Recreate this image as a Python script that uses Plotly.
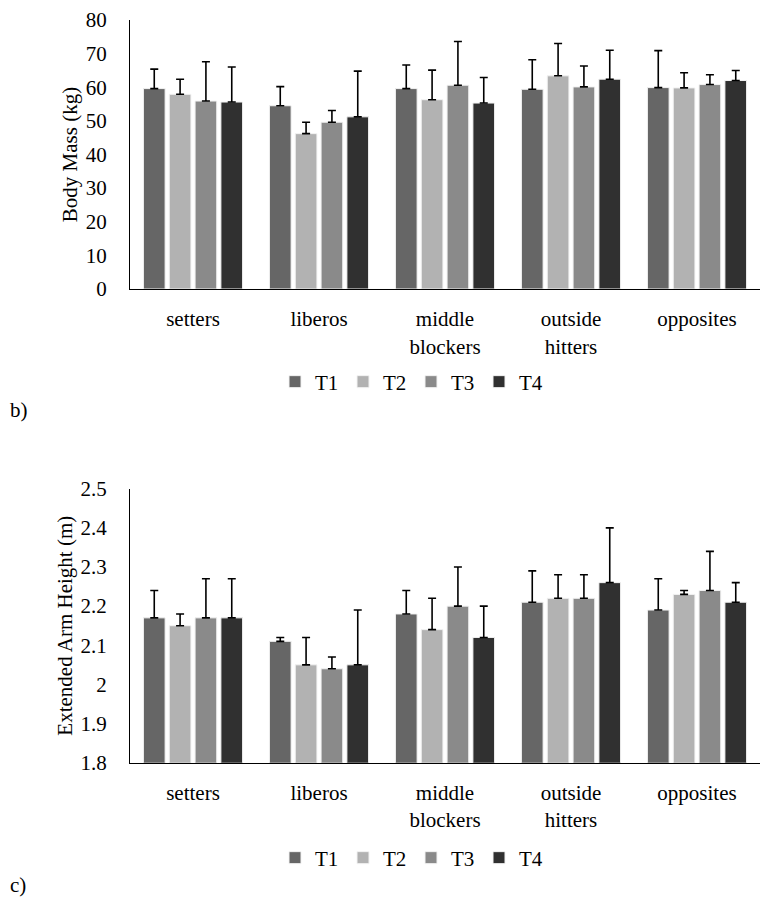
import plotly.graph_objects as go

categories = ["setters", "liberos", "middle<br>blockers", "outside<br>hitters", "opposites"]
series_names = ["T1", "T2", "T3", "T4"]
colors = ["#666666", "#b2b2b2", "#8a8a8a", "#303030"]

# Body mass (kg): means and SD per time point
mass_T1 = [59.6, 54.5, 59.6, 59.4, 59.9]
mass_T2 = [57.9, 46.2, 56.3, 63.4, 59.8]
mass_T3 = [55.9, 49.6, 60.6, 60.1, 60.8]
mass_T4 = [55.6, 51.2, 55.3, 62.4, 62.0]
mass_sd_T1 = [5.8, 5.7, 7.0, 8.8, 11.0]
mass_sd_T2 = [4.5, 3.4, 8.8, 9.6, 4.5]
mass_sd_T3 = [11.7, 3.5, 13.0, 6.2, 2.9]
mass_sd_T4 = [10.4, 13.6, 7.6, 8.6, 3.0]

# Extended arm height (m): means and SD per time point
arm_T1 = [2.17, 2.11, 2.18, 2.21, 2.19]
arm_T2 = [2.15, 2.05, 2.14, 2.22, 2.23]
arm_T3 = [2.17, 2.04, 2.20, 2.22, 2.24]
arm_T4 = [2.17, 2.05, 2.12, 2.26, 2.21]
arm_sd_T1 = [0.07, 0.01, 0.06, 0.08, 0.08]
arm_sd_T2 = [0.03, 0.07, 0.08, 0.06, 0.01]
arm_sd_T3 = [0.10, 0.03, 0.10, 0.06, 0.10]
arm_sd_T4 = [0.10, 0.14, 0.08, 0.14, 0.05]

mass_means = [mass_T1, mass_T2, mass_T3, mass_T4]
mass_sds = [mass_sd_T1, mass_sd_T2, mass_sd_T3, mass_sd_T4]
arm_means = [arm_T1, arm_T2, arm_T3, arm_T4]
arm_sds = [arm_sd_T1, arm_sd_T2, arm_sd_T3, arm_sd_T4]

FONT = "Liberation Serif"
FS = 21
W, H = 768, 909
OX, OY = 8, 8  # page body margin offset


def px_x(x):
    return (x - OX) / W


def px_y(y):
    return 1 - (y - OY) / H


fig = go.Figure()

for i, name in enumerate(series_names):
    fig.add_trace(go.Bar(
        x=categories, y=mass_means[i], name=name,
        marker=dict(color=colors[i], line=dict(color="#f2f2f2", width=1)),
        error_y=dict(type="data", array=mass_sds[i], arrayminus=[0] * 5,
                     symmetric=False, color="black", thickness=1.6, width=4),
        xaxis="x", yaxis="y", legend="legend",
    ))
for i, name in enumerate(series_names):
    fig.add_trace(go.Bar(
        x=categories, y=arm_means[i], name=name,
        marker=dict(color=colors[i], line=dict(color="#f2f2f2", width=1)),
        error_y=dict(type="data", array=arm_sds[i], arrayminus=[0] * 5,
                     symmetric=False, color="black", thickness=1.6, width=4),
        xaxis="x2", yaxis="y2", legend="legend2",
    ))

xdom = [px_x(130), px_x(760)]
top_dom = [px_y(289), px_y(20)]
bot_dom = [px_y(762.7), px_y(488.7)]

axis_common = dict(showline=True, linecolor="black", linewidth=1.3, showgrid=False,
                   zeroline=False, ticks="", automargin=False, ticklabeloverflow="allow",
                   tickfont=dict(family=FONT, size=FS, color="black"))

legend_common = dict(orientation="h", xanchor="center", yanchor="middle",
                     font=dict(family=FONT, size=FS), itemwidth=30, entrywidth=23,
                     bgcolor="rgba(0,0,0,0)")

fig.update_layout(
    width=W, height=H, margin=dict(l=0, r=0, t=0, b=0, autoexpand=False),
    paper_bgcolor="white", plot_bgcolor="white",
    font=dict(family=FONT, size=FS, color="black"),
    barmode="group", bargap=0.18, bargroupgap=0.16,
    showlegend=True,
    xaxis=dict(domain=xdom, anchor="y", ticklabelstandoff=11, **axis_common),
    yaxis=dict(domain=top_dom, anchor="x", range=[0, 80], dtick=10,
               ticklabelstandoff=18,
               title=dict(text="Body Mass (kg)", font=dict(family=FONT, size=FS), standoff=2),
               **axis_common),
    xaxis2=dict(domain=xdom, anchor="y2", ticklabelstandoff=11, **axis_common),
    yaxis2=dict(domain=bot_dom, anchor="x2", range=[1.8, 2.5], dtick=0.1,
                ticklabelstandoff=18,
                title=dict(text="Extended Arm Height (m)", font=dict(family=FONT, size=FS), standoff=2),
                **axis_common),
    legend=dict(x=px_x(411), y=px_y(382), **legend_common),
    legend2=dict(x=px_x(411), y=px_y(858), **legend_common),
    annotations=[
        dict(text="b)", x=px_x(8), y=px_y(410), xref="paper", yref="paper",
             xanchor="left", yanchor="middle", showarrow=False, font=dict(family=FONT, size=FS)),
        dict(text="c)", x=px_x(8), y=px_y(885), xref="paper", yref="paper",
             xanchor="left", yanchor="middle", showarrow=False, font=dict(family=FONT, size=FS)),
    ],
)

fig.write_html("out.html")
